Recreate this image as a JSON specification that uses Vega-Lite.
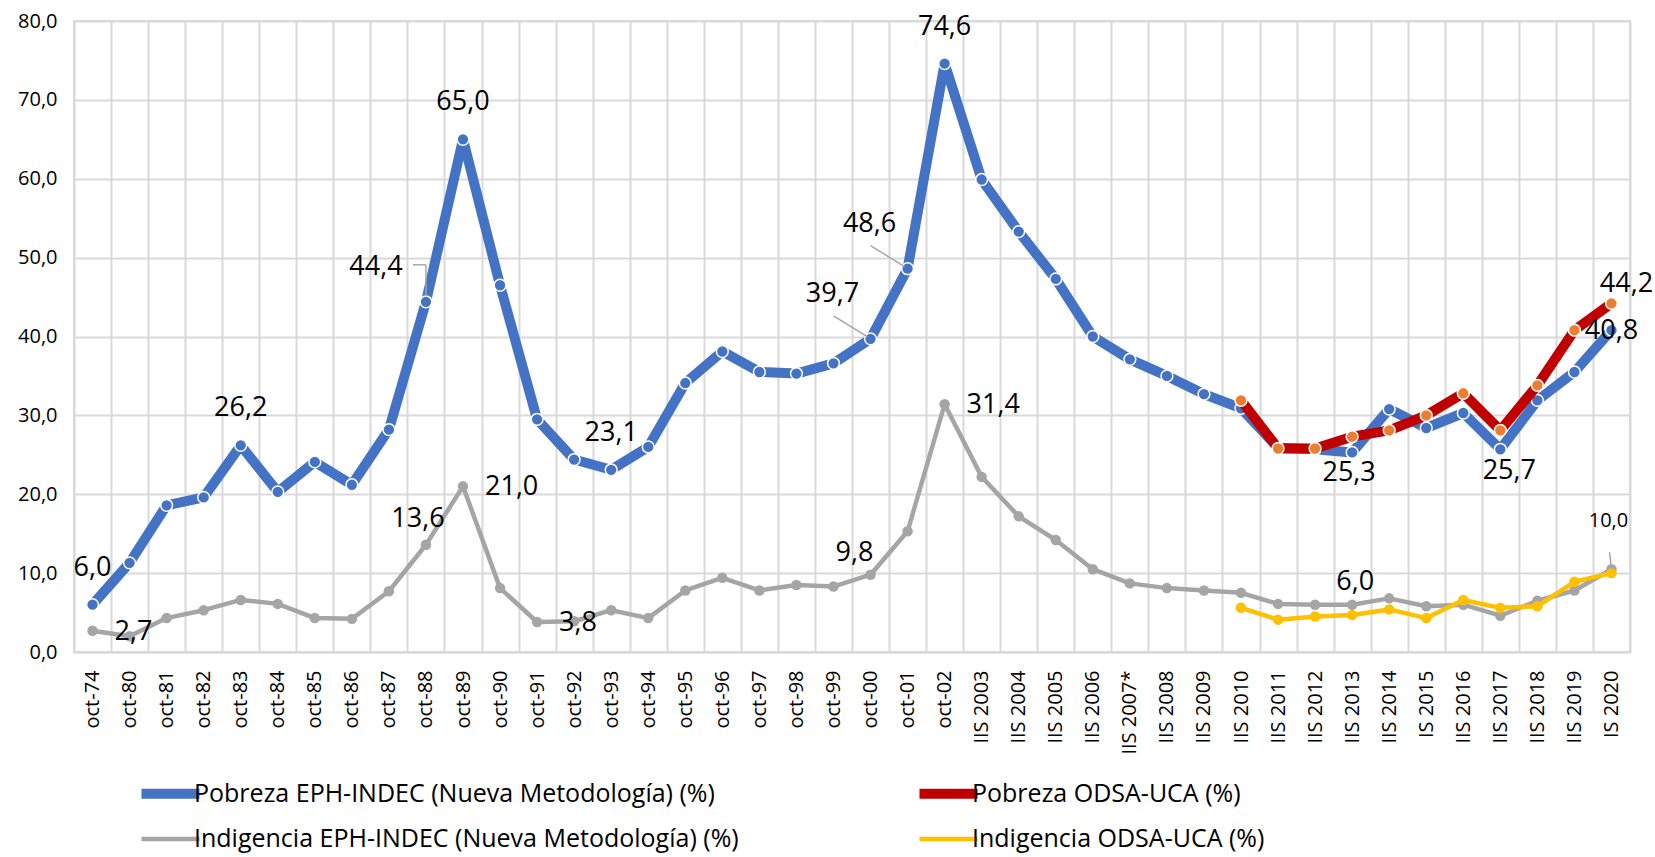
{
"$schema":"https://vega.github.io/schema/vega-lite/v6.json",
"width":1556,"height":631,
"autosize":{"type":"none"},
"padding":{"left":74,"top":21,"right":25,"bottom":205},
"background":"white",
"config":{
 "locale":{"number":{"decimal":",","thousands":".","grouping":[3],"currency":["$",""]}},
 "font":"Open Sans",
 "view":{"stroke":"#d9d9d9","strokeWidth":2}
},
"data":{"values":[
{"c":"oct-74","s":"PE","v":6.0},{"c":"oct-80","s":"PE","v":11.3},{"c":"oct-81","s":"PE","v":18.6},{"c":"oct-82","s":"PE","v":19.6},{"c":"oct-83","s":"PE","v":26.2},{"c":"oct-84","s":"PE","v":20.3},{"c":"oct-85","s":"PE","v":24.1},{"c":"oct-86","s":"PE","v":21.2},{"c":"oct-87","s":"PE","v":28.2},{"c":"oct-88","s":"PE","v":44.4},{"c":"oct-89","s":"PE","v":65.0},{"c":"oct-90","s":"PE","v":46.5},{"c":"oct-91","s":"PE","v":29.5},{"c":"oct-92","s":"PE","v":24.4},{"c":"oct-93","s":"PE","v":23.1},{"c":"oct-94","s":"PE","v":26.0},{"c":"oct-95","s":"PE","v":34.1},{"c":"oct-96","s":"PE","v":38.1},{"c":"oct-97","s":"PE","v":35.5},{"c":"oct-98","s":"PE","v":35.3},{"c":"oct-99","s":"PE","v":36.6},{"c":"oct-00","s":"PE","v":39.7},{"c":"oct-01","s":"PE","v":48.6},{"c":"oct-02","s":"PE","v":74.6},{"c":"IIS 2003","s":"PE","v":59.9},{"c":"IIS 2004","s":"PE","v":53.3},{"c":"IIS 2005","s":"PE","v":47.3},{"c":"IIS 2006","s":"PE","v":40.0},{"c":"IIS 2007*","s":"PE","v":37.1},{"c":"IIS 2008","s":"PE","v":35.0},{"c":"IIS 2009","s":"PE","v":32.7},{"c":"IIS 2010","s":"PE","v":30.9},{"c":"IIS 2011","s":"PE","v":25.9},{"c":"IIS 2012","s":"PE","v":25.7},{"c":"IIS 2013","s":"PE","v":25.3},{"c":"IIS 2014","s":"PE","v":30.8},{"c":"IS 2015","s":"PE","v":28.4},{"c":"IIS 2016","s":"PE","v":30.3},{"c":"IIS 2017","s":"PE","v":25.7},{"c":"IIS 2018","s":"PE","v":31.9},{"c":"IIS 2019","s":"PE","v":35.5},{"c":"IS 2020","s":"PE","v":40.8},
{"c":"oct-74","s":"IE","v":2.7},{"c":"oct-80","s":"IE","v":2.0},{"c":"oct-81","s":"IE","v":4.3},{"c":"oct-82","s":"IE","v":5.3},{"c":"oct-83","s":"IE","v":6.6},{"c":"oct-84","s":"IE","v":6.1},{"c":"oct-85","s":"IE","v":4.3},{"c":"oct-86","s":"IE","v":4.2},{"c":"oct-87","s":"IE","v":7.7},{"c":"oct-88","s":"IE","v":13.6},{"c":"oct-89","s":"IE","v":21.0},{"c":"oct-90","s":"IE","v":8.1},{"c":"oct-91","s":"IE","v":3.8},{"c":"oct-92","s":"IE","v":3.9},{"c":"oct-93","s":"IE","v":5.3},{"c":"oct-94","s":"IE","v":4.3},{"c":"oct-95","s":"IE","v":7.8},{"c":"oct-96","s":"IE","v":9.4},{"c":"oct-97","s":"IE","v":7.8},{"c":"oct-98","s":"IE","v":8.5},{"c":"oct-99","s":"IE","v":8.3},{"c":"oct-00","s":"IE","v":9.8},{"c":"oct-01","s":"IE","v":15.3},{"c":"oct-02","s":"IE","v":31.4},{"c":"IIS 2003","s":"IE","v":22.2},{"c":"IIS 2004","s":"IE","v":17.2},{"c":"IIS 2005","s":"IE","v":14.2},{"c":"IIS 2006","s":"IE","v":10.5},{"c":"IIS 2007*","s":"IE","v":8.7},{"c":"IIS 2008","s":"IE","v":8.1},{"c":"IIS 2009","s":"IE","v":7.8},{"c":"IIS 2010","s":"IE","v":7.5},{"c":"IIS 2011","s":"IE","v":6.1},{"c":"IIS 2012","s":"IE","v":6.0},{"c":"IIS 2013","s":"IE","v":6.0},{"c":"IIS 2014","s":"IE","v":6.8},{"c":"IS 2015","s":"IE","v":5.8},{"c":"IIS 2016","s":"IE","v":6.0},{"c":"IIS 2017","s":"IE","v":4.6},{"c":"IIS 2018","s":"IE","v":6.5},{"c":"IIS 2019","s":"IE","v":7.8},{"c":"IS 2020","s":"IE","v":10.5},
{"c":"IIS 2010","s":"PO","v":31.9},{"c":"IIS 2011","s":"PO","v":25.8},{"c":"IIS 2012","s":"PO","v":25.8},{"c":"IIS 2013","s":"PO","v":27.3},{"c":"IIS 2014","s":"PO","v":28.1},{"c":"IS 2015","s":"PO","v":30.0},{"c":"IIS 2016","s":"PO","v":32.8},{"c":"IIS 2017","s":"PO","v":28.1},{"c":"IIS 2018","s":"PO","v":33.8},{"c":"IIS 2019","s":"PO","v":40.8},{"c":"IS 2020","s":"PO","v":44.2},
{"c":"IIS 2010","s":"IO","v":5.6},{"c":"IIS 2011","s":"IO","v":4.1},{"c":"IIS 2012","s":"IO","v":4.5},{"c":"IIS 2013","s":"IO","v":4.7},{"c":"IIS 2014","s":"IO","v":5.4},{"c":"IS 2015","s":"IO","v":4.3},{"c":"IIS 2016","s":"IO","v":6.6},{"c":"IIS 2017","s":"IO","v":5.6},{"c":"IIS 2018","s":"IO","v":5.8},{"c":"IIS 2019","s":"IO","v":8.9},{"c":"IS 2020","s":"IO","v":10.0}
]},
"encoding":{
 "x":{"field":"c","type":"ordinal","title":null,
  "scale":{"type":"band","paddingInner":0,"paddingOuter":0,"domain":["oct-74","oct-80","oct-81","oct-82","oct-83","oct-84","oct-85","oct-86","oct-87","oct-88","oct-89","oct-90","oct-91","oct-92","oct-93","oct-94","oct-95","oct-96","oct-97","oct-98","oct-99","oct-00","oct-01","oct-02","IIS 2003","IIS 2004","IIS 2005","IIS 2006","IIS 2007*","IIS 2008","IIS 2009","IIS 2010","IIS 2011","IIS 2012","IIS 2013","IIS 2014","IS 2015","IIS 2016","IIS 2017","IIS 2018","IIS 2019","IS 2020"]},
  "axis":{"labelAngle":-90,"labelAlign":"right","labelBaseline":"middle","labelFontSize":20,"labelColor":"#000","labelPadding":18,"ticks":false,"tickSize":0,"tickBand":"extent","grid":true,"gridColor":"#d9d9d9","gridWidth":2,"domainColor":"#d9d9d9","domainWidth":2,"labelOverlap":false}},
 "y":{"field":"v","type":"quantitative","title":null,
  "scale":{"domain":[0,80],"nice":false},
  "axis":{"values":[0,10,20,30,40,50,60,70,80],"format":".1f","labelFontSize":20,"labelColor":"#000","labelPadding":17,"ticks":false,"tickSize":0,"domain":false,"grid":true,"gridColor":"#d9d9d9","gridWidth":2}},
 "stroke":{"field":"s","type":"nominal","scale":{"domain":["PE","PO","IE","IO"],"range":["#4472C4","#C00000","#A5A5A5","#FFC000"]},
     "legend":{"title":null,"orient":"none","legendX":77,"legendY":753,"columns":2,"direction":"horizontal","symbolType":"M-2,0H2","symbolSize":841,"labelFontSize":25,"labelColor":"#000","labelLimit":0,"columnPadding":160,"rowPadding":8,"labelOffset":4,"padding":0,
       "labelExpr":"{'PE':'Pobreza EPH-INDEC (Nueva Metodología) (%)','PO':'Pobreza ODSA-UCA (%)','IE':'Indigencia EPH-INDEC (Nueva Metodología) (%)','IO':'Indigencia ODSA-UCA (%)'}[datum.label]"}},
 "strokeWidth":{"field":"s","type":"nominal","scale":{"type":"ordinal","domain":["PE","PO","IE","IO"],"range":[10,10,4.5,4.5]},
     "legend":{"title":null,"orient":"none","legendX":77,"legendY":753,"columns":2,"direction":"horizontal","symbolType":"M-2,0H2","symbolSize":841,"labelFontSize":25,"labelColor":"#000","labelLimit":0,"columnPadding":160,"rowPadding":8,"labelOffset":4,"padding":0,
       "labelExpr":"{'PE':'Pobreza EPH-INDEC (Nueva Metodología) (%)','PO':'Pobreza ODSA-UCA (%)','IE':'Indigencia EPH-INDEC (Nueva Metodología) (%)','IO':'Indigencia ODSA-UCA (%)'}[datum.label]"}}
},
"layer":[
 {"transform":[{"filter":{"field":"s","equal":"PE"}}],
  "mark":{"type":"line","strokeJoin":"round","strokeCap":"round"}},
 {"transform":[{"filter":{"field":"s","equal":"PE"}}],
  "mark":{"type":"circle","size":140,"fill":"#4472C4","opacity":1},
  "encoding":{"stroke":{"value":"white"},"strokeWidth":{"value":1.5}}},
 {"transform":[{"filter":{"field":"s","equal":"PO"}}],
  "mark":{"type":"line","strokeJoin":"round","strokeCap":"round"}},
 {"transform":[{"filter":{"field":"s","equal":"PO"}}],
  "mark":{"type":"circle","size":140,"fill":"#ED7D31","opacity":1},
  "encoding":{"stroke":{"value":"white"},"strokeWidth":{"value":1.5}}},
 {"transform":[{"filter":{"field":"s","equal":"IE"}}],
  "mark":{"type":"line","strokeJoin":"round","strokeCap":"round"}},
 {"transform":[{"filter":{"field":"s","equal":"IE"}}],
  "mark":{"type":"circle","size":110,"fill":"#A5A5A5","opacity":1},
  "encoding":{"stroke":{"value":null},"strokeWidth":{"value":0}}},
 {"transform":[{"filter":{"field":"s","equal":"IO"}}],
  "mark":{"type":"line","strokeJoin":"round","strokeCap":"round"}},
 {"transform":[{"filter":{"field":"s","equal":"IO"}}],
  "mark":{"type":"circle","size":110,"fill":"#FFC000","opacity":1},
  "encoding":{"stroke":{"value":null},"strokeWidth":{"value":0}}},

 {"transform":[{"filter":{"and":[{"field":"s","equal":"PE"},{"field":"c","equal":"oct-88"}]}}],
  "mark":{"type":"rule","xOffset":-13,"yOffset":-37,"x2Offset":0,"y2Offset":-37},
  "encoding":{"x2":{"field":"c"},"y2":{"field":"v"},"stroke":{"value":"#a6a6a6"},"strokeWidth":{"value":1.5}}},
 {"transform":[{"filter":{"and":[{"field":"s","equal":"PE"},{"field":"c","equal":"oct-88"}]}}],
  "mark":{"type":"rule","xOffset":0,"yOffset":-37,"x2Offset":0,"y2Offset":-6},
  "encoding":{"x2":{"field":"c"},"y2":{"field":"v"},"stroke":{"value":"#a6a6a6"},"strokeWidth":{"value":1.5}}},
 {"transform":[{"filter":{"and":[{"field":"s","equal":"PE"},{"field":"c","oneOf":["oct-00","oct-01"]}]}}],
  "mark":{"type":"rule","xOffset":-37,"yOffset":-23,"x2Offset":-3,"y2Offset":-2},
  "encoding":{"x2":{"field":"c"},"y2":{"field":"v"},"stroke":{"value":"#a6a6a6"},"strokeWidth":{"value":1.5}}},
 {"transform":[{"filter":{"and":[{"field":"s","equal":"IO"},{"field":"c","equal":"IS 2020"}]}}],
  "mark":{"type":"rule","xOffset":-2,"yOffset":-21,"x2Offset":0,"y2Offset":-4},
  "encoding":{"x2":{"field":"c"},"y2":{"field":"v"},"stroke":{"value":"#a6a6a6"},"strokeWidth":{"value":1.5}}},

 {"transform":[{"filter":{"and":[{"field":"s","equal":"PE"},{"field":"c","oneOf":["oct-74","oct-83","oct-89","oct-93","oct-02"]}]}}],
  "mark":{"type":"text","fontSize":27,"fill":"#000","baseline":"middle","dy":-37},
  "encoding":{"text":{"field":"v","type":"quantitative","format":".1f"},"stroke":{"value":null},"strokeWidth":{"value":0}}},
 {"transform":[{"filter":{"and":[{"field":"s","equal":"PE"},{"field":"c","equal":"oct-88"}]}}],
  "mark":{"type":"text","fontSize":27,"fill":"#000","baseline":"middle","dx":-50,"dy":-35},
  "encoding":{"text":{"field":"v","type":"quantitative","format":".1f"},"stroke":{"value":null},"strokeWidth":{"value":0}}},
 {"transform":[{"filter":{"and":[{"field":"s","equal":"PE"},{"field":"c","oneOf":["oct-00","oct-01"]}]}}],
  "mark":{"type":"text","fontSize":27,"fill":"#000","baseline":"middle","dx":-38,"dy":-45},
  "encoding":{"text":{"field":"v","type":"quantitative","format":".1f"},"stroke":{"value":null},"strokeWidth":{"value":0}}},
 {"transform":[{"filter":{"and":[{"field":"s","equal":"PE"},{"field":"c","equal":"IIS 2013"}]}}],
  "mark":{"type":"text","fontSize":27,"fill":"#000","baseline":"middle","dx":-3,"dy":21},
  "encoding":{"text":{"field":"v","type":"quantitative","format":".1f"},"stroke":{"value":null},"strokeWidth":{"value":0}}},
 {"transform":[{"filter":{"and":[{"field":"s","equal":"PE"},{"field":"c","equal":"IIS 2017"}]}}],
  "mark":{"type":"text","fontSize":27,"fill":"#000","baseline":"middle","dx":9,"dy":22},
  "encoding":{"text":{"field":"v","type":"quantitative","format":".1f"},"stroke":{"value":null},"strokeWidth":{"value":0}}},
 {"transform":[{"filter":{"and":[{"field":"s","equal":"PE"},{"field":"c","equal":"IS 2020"}]}}],
  "mark":{"type":"text","fontSize":27,"fill":"#000","baseline":"middle","dx":0,"dy":1},
  "encoding":{"text":{"field":"v","type":"quantitative","format":".1f"},"stroke":{"value":null},"strokeWidth":{"value":0}}},
 {"transform":[{"filter":{"and":[{"field":"s","equal":"PO"},{"field":"c","equal":"IS 2020"}]}}],
  "mark":{"type":"text","fontSize":27,"fill":"#000","baseline":"middle","dx":15,"dy":-19},
  "encoding":{"text":{"field":"v","type":"quantitative","format":".1f"},"stroke":{"value":null},"strokeWidth":{"value":0}}},
 {"transform":[{"filter":{"and":[{"field":"s","equal":"IE"},{"field":"c","oneOf":["oct-74","oct-89","oct-91","oct-02"]}]}}],
  "mark":{"type":"text","fontSize":27,"fill":"#000","baseline":"middle","align":"left","dx":22,"dy":1},
  "encoding":{"text":{"field":"v","type":"quantitative","format":".1f"},"stroke":{"value":null},"strokeWidth":{"value":0}}},
 {"transform":[{"filter":{"and":[{"field":"s","equal":"IE"},{"field":"c","equal":"oct-88"}]}}],
  "mark":{"type":"text","fontSize":27,"fill":"#000","baseline":"middle","dx":-8,"dy":-26},
  "encoding":{"text":{"field":"v","type":"quantitative","format":".1f"},"stroke":{"value":null},"strokeWidth":{"value":0}}},
 {"transform":[{"filter":{"and":[{"field":"s","equal":"IE"},{"field":"c","equal":"oct-00"}]}}],
  "mark":{"type":"text","fontSize":27,"fill":"#000","baseline":"middle","dx":-16,"dy":-22},
  "encoding":{"text":{"field":"v","type":"quantitative","format":".1f"},"stroke":{"value":null},"strokeWidth":{"value":0}}},
 {"transform":[{"filter":{"and":[{"field":"s","equal":"IE"},{"field":"c","equal":"IIS 2013"}]}}],
  "mark":{"type":"text","fontSize":27,"fill":"#000","baseline":"middle","dx":3,"dy":-23},
  "encoding":{"text":{"field":"v","type":"quantitative","format":".1f"},"stroke":{"value":null},"strokeWidth":{"value":0}}},
 {"transform":[{"filter":{"and":[{"field":"s","equal":"IO"},{"field":"c","equal":"IS 2020"}]}}],
  "mark":{"type":"text","fontSize":20,"fill":"#000","baseline":"middle","dx":-3,"dy":-52},
  "encoding":{"text":{"field":"v","type":"quantitative","format":".1f"},"stroke":{"value":null},"strokeWidth":{"value":0}}}
]
}
